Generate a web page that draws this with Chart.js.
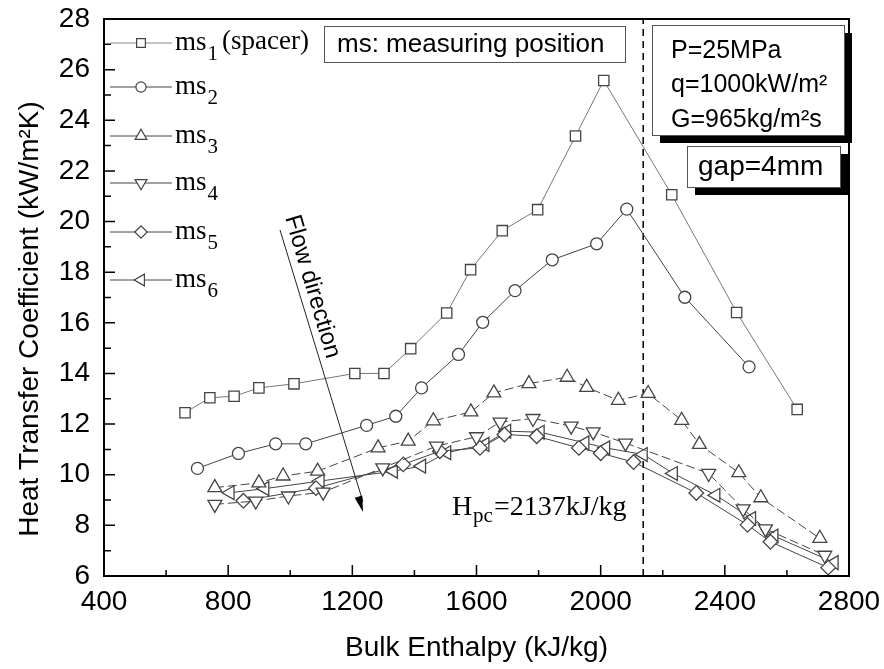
<!DOCTYPE html>
<html>
<head>
<meta charset="utf-8">
<script src="https://cdn.jsdelivr.net/npm/chart.js@4.4.0/dist/chart.umd.min.js"></script>
<style>
  body { margin: 0; background: #fff; }
</style>
</head>
<body>
<canvas id="myChart" width="884" height="669"></canvas>
<script>
// measured points, x = bulk enthalpy (kJ/kg), y = heat transfer coefficient (kW/m2K)
var ms1X = [661, 741, 819, 899, 1012, 1208, 1302, 1388, 1504, 1581, 1683, 1797, 1919, 2010, 2229, 2438, 2633];
var ms1Y = [12.45, 13.04, 13.1, 13.43, 13.59, 14.0, 14.0, 14.98, 16.39, 18.1, 19.64, 20.47, 23.38, 25.57, 21.06, 16.41, 12.58];
var ms2X = [701, 833, 953, 1050, 1246, 1340, 1423, 1542, 1620, 1724, 1844, 1987, 2084, 2271, 2478];
var ms2Y = [10.25, 10.84, 11.22, 11.22, 11.95, 12.31, 13.43, 14.75, 16.02, 17.27, 18.49, 19.12, 20.49, 17.01, 14.26];
var ms3X = [757, 899, 977, 1088, 1283, 1380, 1461, 1582, 1656, 1769, 1892, 1955, 2057, 2153, 2261, 2318, 2445, 2516, 2706];
var ms3Y = [9.49, 9.68, 9.95, 10.14, 11.06, 11.33, 12.13, 12.48, 13.23, 13.6, 13.85, 13.45, 12.94, 13.21, 12.15, 11.2, 10.08, 9.09, 7.49];
var ms4X = [757, 889, 994, 1106, 1298, 1471, 1600, 1676, 1782, 1905, 1976, 2080, 2348, 2459, 2531, 2722];
var ms4Y = [8.83, 8.96, 9.16, 9.31, 10.27, 11.13, 11.5, 12.08, 12.22, 11.92, 11.69, 11.25, 10.05, 8.65, 7.86, 6.82];
var ms5X = [849, 1083, 1364, 1482, 1611, 1690, 1794, 1930, 2000, 2106, 2308, 2473, 2547, 2733];
var ms5Y = [8.97, 9.47, 10.41, 10.93, 11.06, 11.59, 11.52, 11.06, 10.85, 10.5, 9.28, 8.02, 7.35, 6.33];
var ms6X = [806, 918, 1096, 1332, 1423, 1504, 1627, 1697, 1805, 1949, 2016, 2137, 2234, 2371, 2486, 2558, 2752];
var ms6Y = [9.29, 9.45, 9.75, 10.14, 10.34, 10.87, 11.2, 11.72, 11.68, 11.26, 11.06, 10.8, 10.05, 9.19, 8.27, 7.58, 6.53];

var hpc = 2137; // pseudo-critical enthalpy
var xTicks = [400, 800, 1200, 1600, 2000, 2400, 2800];
var yTicks = [6, 8, 10, 12, 14, 16, 18, 20, 22, 24, 26, 28];

var seriesNames = ['1', '2', '3', '4', '5', '6'];
var seriesX = [ms1X, ms2X, ms3X, ms4X, ms5X, ms6X];
var seriesY = [ms1Y, ms2Y, ms3Y, ms4Y, ms5Y, ms6Y];

var styles = [
  { pointStyle: 'rect', rotation: 0, radius: 7.3, line: '#777', dash: [] },
  { pointStyle: 'circle', rotation: 0, radius: 6, line: '#444', dash: [] },
  { pointStyle: 'triangle', rotation: 0, radius: 8, line: '#444', dash: [9, 4] },
  { pointStyle: 'triangle', rotation: 180, radius: 8, line: '#444', dash: [9, 4] },
  { pointStyle: 'rectRot', rotation: 0, radius: 7.3, line: '#444', dash: [] },
  { pointStyle: 'triangle', rotation: 270, radius: 8, line: '#444', dash: [] }
];

function toPoints(xs, ys) {
  return xs.map(function (x, i) { return { x: x, y: ys[i] }; });
}

var datasets = seriesNames.map(function (n, i) {
  var s = styles[i];
  return {
    label: 'ms' + n,
    data: toPoints(seriesX[i], seriesY[i]),
    borderColor: s.line,
    borderWidth: 1,
    borderDash: s.dash,
    pointStyle: s.pointStyle,
    rotation: s.rotation,
    pointRadius: s.radius,
    pointBackgroundColor: '#fff',
    pointBorderColor: '#444',
    pointBorderWidth: 1.3,
    tension: 0
  };
});

datasets.push({
  label: 'Hpc',
  data: [{ x: hpc, y: 6 }, { x: hpc, y: 28 }],
  borderColor: '#000',
  borderWidth: 1.5,
  borderDash: [7, 5],
  pointRadius: 0
});

function drawMarker(ctx, s, x, y, r) {
  ctx.fillStyle = '#fff';
  ctx.strokeStyle = '#444';
  ctx.lineWidth = 1.2;
  Chart.helpers.drawPoint(ctx, { pointStyle: s.pointStyle, rotation: s.rotation, radius: r, borderWidth: 1.2 }, x, y);
}

function box(ctx, x, y, w, h, shadow) {
  if (shadow) {
    ctx.fillStyle = '#000';
    ctx.fillRect(x + 8, y + 8, w, h);
  }
  ctx.fillStyle = '#fff';
  ctx.fillRect(x, y, w, h);
  ctx.strokeStyle = '#555';
  ctx.lineWidth = 1;
  ctx.strokeRect(x + 0.5, y + 0.5, w, h);
}

function noPad(s) {
  s.paddingTop = 0;
  s.paddingBottom = 0;
  s.paddingLeft = 0;
  s.paddingRight = 0;
}

var decor = {
  id: 'decor',
  afterDraw: function (chart) {
    var ctx = chart.ctx, a = chart.chartArea;
    var xs = chart.scales.x, ys = chart.scales.y;
    ctx.save();

    // frame
    ctx.strokeStyle = '#000';
    ctx.lineWidth = 2;
    ctx.strokeRect(a.left, a.top, a.right - a.left, a.bottom - a.top);

    // inward ticks
    ctx.lineWidth = 1.5;
    ctx.beginPath();
    for (var v = 6; v <= 28; v++) {
      var py = ys.getPixelForValue(v);
      ctx.moveTo(a.left, py);
      ctx.lineTo(a.left + (v % 2 === 0 ? 11 : 7), py);
    }
    for (var h = 400; h <= 2800; h += 200) {
      var px = xs.getPixelForValue(h);
      ctx.moveTo(px, a.bottom);
      ctx.lineTo(px, a.bottom - (h % 400 === 0 ? 11 : 6));
    }
    ctx.stroke();

    // y title
    ctx.save();
    ctx.translate(30, 319);
    ctx.rotate(-Math.PI / 2);
    ctx.fillStyle = '#000';
    ctx.font = '28px "Liberation Sans", Arial, sans-serif';
    ctx.textAlign = 'center';
    ctx.textBaseline = 'middle';
    ctx.fillText('Heat Transfer Coefficient (kW/m\u00B2K)', 0, 0);
    ctx.restore();

    // legend
    var rows = [43, 87, 136, 183, 232, 280];
    seriesNames.forEach(function (n, i) {
      var ry = rows[i];
      ctx.strokeStyle = i === 0 ? '#888' : '#444';
      ctx.lineWidth = 1;
      ctx.setLineDash([]);
      ctx.beginPath();
      ctx.moveTo(110, ry);
      ctx.lineTo(172, ry);
      ctx.stroke();
      drawMarker(ctx, styles[i], 141, ry, styles[i].radius * 0.85);
      ctx.fillStyle = '#000';
      ctx.textAlign = 'left';
      ctx.textBaseline = 'alphabetic';
      ctx.font = '27px "Liberation Serif", "Times New Roman", serif';
      ctx.fillText('ms', 175, ry + 7);
      var w = ctx.measureText('ms').width;
      ctx.font = '21px "Liberation Serif", "Times New Roman", serif';
      ctx.fillText(n, 175 + w + 1, ry + 17);
      if (i === 0) {
        ctx.font = '27px "Liberation Serif", "Times New Roman", serif';
        ctx.fillText('(spacer)', 222, ry + 6);
      }
    });

    // info boxes
    box(ctx, 324, 26, 301, 36, false);
    ctx.fillStyle = '#000';
    ctx.font = '26px "Liberation Sans", Arial, sans-serif';
    ctx.textBaseline = 'middle';
    ctx.fillText('ms: measuring position', 337, 45);

    box(ctx, 652, 25, 192, 110, true);
    ctx.fillStyle = '#000';
    ctx.font = '25px "Liberation Sans", Arial, sans-serif';
    ctx.fillText('P=25MPa', 671, 51);
    ctx.fillText('q=1000kW/m\u00B2', 671, 85);
    ctx.fillText('G=965kg/m\u00B2s', 671, 120);

    box(ctx, 687, 146, 153, 41, true);
    ctx.fillStyle = '#000';
    ctx.font = '28px "Liberation Sans", Arial, sans-serif';
    ctx.fillText('gap=4mm', 698, 167);

    // flow direction arrow
    var x0 = 280, y0 = 230, x1 = 363, y1 = 512;
    ctx.strokeStyle = '#222';
    ctx.lineWidth = 1;
    ctx.beginPath();
    ctx.moveTo(x0, y0);
    ctx.lineTo(x1, y1 - 10);
    ctx.stroke();
    var ang = Math.atan2(y1 - y0, x1 - x0);
    ctx.fillStyle = '#000';
    ctx.beginPath();
    ctx.moveTo(x1, y1);
    ctx.lineTo(x1 - 16 * Math.cos(ang) + 4 * Math.sin(ang), y1 - 16 * Math.sin(ang) - 4 * Math.cos(ang));
    ctx.lineTo(x1 - 16 * Math.cos(ang) - 4 * Math.sin(ang), y1 - 16 * Math.sin(ang) + 4 * Math.cos(ang));
    ctx.closePath();
    ctx.fill();
    ctx.save();
    ctx.translate(x0 + 3, y0 - 12);
    ctx.rotate(ang);
    ctx.font = '24px "Liberation Sans", Arial, sans-serif';
    ctx.textBaseline = 'alphabetic';
    ctx.textAlign = 'left';
    ctx.fillText('Flow direction', 0, -2);
    ctx.restore();

    // Hpc label
    ctx.fillStyle = '#000';
    ctx.textBaseline = 'alphabetic';
    ctx.font = '28px "Liberation Serif", "Times New Roman", serif';
    ctx.fillText('H', 452, 515);
    ctx.font = '21px "Liberation Serif", "Times New Roman", serif';
    ctx.fillText('pc', 473, 522);
    ctx.font = '28px "Liberation Serif", "Times New Roman", serif';
    ctx.fillText('=2137kJ/kg', 494, 515);

    ctx.restore();
  }
};

Chart.defaults.font.family = '"Liberation Sans", Arial, sans-serif';
Chart.defaults.color = '#000';

var ctx = document.getElementById('myChart').getContext('2d');
var myChart = new Chart(ctx, {
  type: 'line',
  data: { datasets: datasets },
  options: {
    responsive: false,
    animation: false,
    layout: { padding: { top: 19, right: 35, left: 0, bottom: 0 } },
    plugins: { legend: { display: false }, tooltip: { enabled: false } },
    scales: {
      x: {
        type: 'linear',
        min: 400,
        max: 2800,
        afterFit: function (s) { s.height = 93; noPad(s); },
        afterBuildTicks: function (s) { s.ticks = xTicks.map(function (v) { return { value: v }; }); },
        grid: { display: false, drawTicks: false },
        border: { display: false },
        ticks: {
          padding: 9, font: { size: 28 }, color: '#000', maxRotation: 0,
          callback: function (value) { return String(value); }
        },
        title: { display: true, text: 'Bulk Enthalpy (kJ/kg)', font: { size: 28 }, color: '#000', padding: { top: 0, bottom: 4 } }
      },
      y: {
        type: 'linear',
        min: 6,
        max: 28,
        afterFit: function (s) { s.width = 104; noPad(s); },
        afterBuildTicks: function (s) { s.ticks = yTicks.map(function (v) { return { value: v }; }); },
        grid: { display: false, drawTicks: false },
        border: { display: false },
        ticks: {
          padding: 14, font: { size: 28 }, color: '#000',
          callback: function (value) { return String(value); }
        }
      }
    }
  },
  plugins: [decor]
});
</script>
</body>
</html>
